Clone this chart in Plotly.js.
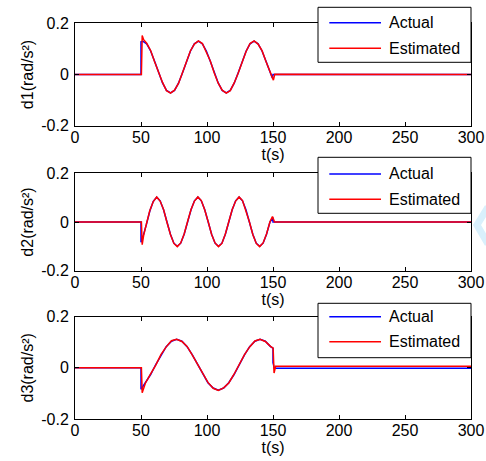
<!DOCTYPE html>
<html>
<head>
<meta charset="utf-8">
<script src="https://cdn.plot.ly/plotly-3.0.1.min.js"></script>
<style>
  html, body { margin: 0; padding: 0; background: #fff; }
  #chart { width: 486px; height: 461px; }
</style>
</head>
<body>
<div id="chart"></div>
<script>
// Disturbance torques d1..d3: actual vs estimated (rad/s^2) over time t (s)

// ---- d1 ----
const d1ActualT = [0, 50, 50, 51.3, 54.3, 57.3, 60.3, 63.3, 66.3, 69.3, 72.4, 75.4, 78.4, 81.4, 84.4, 87.4, 90.4, 93.5,
  96.5, 99.5, 102.5, 105.5, 108.5, 111.5, 114.6, 117.6, 120.6, 123.6, 126.6, 129.6, 132.6, 135.7, 138.7, 141.7, 144.7,
  147.7, 149.5, 150, 300];
const d1ActualV = [0, 0, 0.128, 0.130, 0.120, 0.092, 0.052, 0.007, -0.033, -0.062, -0.072, -0.062, -0.034, 0.006, 0.051,
  0.091, 0.120, 0.130, 0.120, 0.092, 0.052, 0.007, -0.033, -0.062, -0.072, -0.062, -0.034, 0.006, 0.051, 0.091, 0.120,
  0.130, 0.120, 0.092, 0.052, 0.007, -0.014, 0, 0];
const d1EstT = [0, 50.3, 50.9, 52.0, 54.3, 57.3, 60.3, 63.3, 66.3, 69.3, 72.4, 75.4, 78.4, 81.4, 84.4, 87.4, 90.4, 93.5,
  96.5, 99.5, 102.5, 105.5, 108.5, 111.5, 114.6, 117.6, 120.6, 123.6, 126.6, 129.6, 132.6, 135.7, 138.7, 141.7, 144.7,
  147.7, 149.5, 150.3, 151.3, 300];
const d1EstV = [0, 0, 0.152, 0.136, 0.122, 0.094, 0.050, 0.008, -0.031, -0.063, -0.073, -0.061, -0.035, 0.007, 0.050,
  0.092, 0.119, 0.131, 0.121, 0.090, 0.053, 0.006, -0.034, -0.061, -0.073, -0.063, -0.033, 0.005, 0.052, 0.090, 0.121,
  0.131, 0.119, 0.093, 0.051, 0.008, -0.015, -0.022, 0.001, 0];

// ---- d2 ----
const d2ActualT = [0, 50, 50, 51.5, 54.1, 56.7, 59.3, 61.9, 64.5, 67.1, 69.7, 72.3, 74.9, 77.5, 80.1, 82.7, 85.3, 87.9,
  90.5, 93.1, 95.7, 98.3, 100.9, 103.5, 106.1, 108.7, 111.3, 113.9, 116.5, 119.1, 121.7, 124.3, 126.9, 129.5, 132.1,
  134.7, 137.3, 139.9, 142.5, 145.1, 147.7, 150, 150, 300];
const d2ActualV = [0, 0, -0.083, -0.060, -0.010, 0.045, 0.085, 0.102, 0.087, 0.050, 0, -0.050, -0.087, -0.100, -0.087,
  -0.050, 0, 0.050, 0.087, 0.102, 0.087, 0.050, 0, -0.050, -0.087, -0.100, -0.087, -0.050, 0, 0.050, 0.087, 0.102,
  0.087, 0.050, 0, -0.050, -0.087, -0.100, -0.087, -0.050, 0, 0.018, 0, 0];
const d2EstT = [0, 50.3, 50.9, 52.0, 54.1, 56.7, 59.3, 61.9, 64.5, 67.1, 69.7, 72.3, 74.9, 77.5, 80.1, 82.7, 85.3, 87.9,
  90.5, 93.1, 95.7, 98.3, 100.9, 103.5, 106.1, 108.7, 111.3, 113.9, 116.5, 119.1, 121.7, 124.3, 126.9, 129.5, 132.1,
  134.7, 137.3, 139.9, 142.5, 145.1, 147.7, 149.6, 150.4, 151.2, 300];
const d2EstV = [0, 0, -0.093, -0.055, -0.008, 0.047, 0.084, 0.103, 0.086, 0.051, -0.002, -0.051, -0.088, -0.101,
  -0.086, -0.049, 0.002, 0.051, 0.086, 0.103, 0.088, 0.049, 0.001, -0.051, -0.086, -0.101, -0.088, -0.049, 0.001,
  0.051, 0.086, 0.103, 0.088, 0.049, 0.001, -0.051, -0.088, -0.101, -0.086, -0.049, 0.001, 0.022, 0.012, 0, 0];

// ---- d3 ----
const d3ActualT = [0, 50, 50, 53.3, 57.3, 61.2, 65.2, 69.1, 73.1, 77.0, 81.0, 84.9, 88.9, 92.8, 96.8, 100.7, 104.7,
  108.6, 112.6, 116.5, 120.5, 124.4, 128.4, 132.3, 136.3, 140.2, 144.2, 148.1, 150, 150, 151, 300];
const d3ActualV = [0, 0, -0.084, -0.058, -0.026, 0.013, 0.051, 0.083, 0.104, 0.112, 0.104, 0.083, 0.051, 0.013,
  -0.026, -0.058, -0.079, -0.087, -0.079, -0.058, -0.026, 0.013, 0.051, 0.083, 0.104, 0.112, 0.104, 0.083, 0.077,
  0.020, -0.002, -0.002];
const d3EstT = [0, 50.3, 50.9, 53.3, 57.3, 61.2, 65.2, 69.1, 73.1, 77.0, 81.0, 84.9, 88.9, 92.8, 96.8, 100.7, 104.7,
  108.6, 112.6, 116.5, 120.5, 124.4, 128.4, 132.3, 136.3, 140.2, 144.2, 148.1, 150.1, 150.8, 152, 300];
const d3EstV = [0, 0, -0.097, -0.060, -0.024, 0.011, 0.053, 0.082, 0.106, 0.112, 0.103, 0.084, 0.050, 0.014, -0.027,
  -0.057, -0.080, -0.088, -0.078, -0.059, -0.025, 0.012, 0.052, 0.082, 0.105, 0.112, 0.103, 0.084, 0.077, -0.020,
  0.006, 0.006];

const panelNames = ['d1', 'd2', 'd3'];
const seriesNames = ['Actual', 'Estimated'];
const xTickVals = [0, 50, 100, 150, 200, 250, 300];
const yTickVals = [-0.2, 0, 0.2];
const yTickText = ['-0.2', '0', '0.2'];

const actualT = [d1ActualT, d2ActualT, d3ActualT];
const actualV = [d1ActualV, d2ActualV, d3ActualV];
const estT = [d1EstT, d2EstT, d3EstT];
const estV = [d1EstV, d2EstV, d3EstV];

// ---- geometry (pixels on a 486 x 461 canvas) ----
const W = 486, H = 461;
const px = x => x / W;
const py = y => 1 - y / H;
const plotLeft = 75, plotRight = 471;
const panelTop = [23.3, 173.3, 316.7];
const panelBottom = [125.7, 270.7, 419];
const legendBox = [[318, 7.3, 471, 62.3], [318, 157.3, 471, 213.3], [318, 303.3, 471, 357.7]];
const legendRows = [[22.7, 48.3], [174, 199.3], [316.7, 341.7]];

const FONT = 'Liberation Sans, Arial, Helvetica, sans-serif';
const BLUE = '#0000ff', RED = '#ff0000';

const traces = [];
const layout = {
  width: W, height: H,
  margin: {l: 0, r: 0, t: 0, b: 0},
  paper_bgcolor: '#fff', plot_bgcolor: '#fff',
  showlegend: false,
  font: {family: FONT, size: 16, color: '#000'},
  shapes: [], annotations: []
};

for (let i = 0; i < 3; i++) {
  const sfx = i === 0 ? '' : String(i + 1);
  traces.push({x: actualT[i], y: actualV[i], type: 'scatter', mode: 'lines', name: seriesNames[0],
    xaxis: 'x' + sfx, yaxis: 'y' + sfx, line: {color: BLUE, width: 1.5}});
  traces.push({x: estT[i], y: estV[i], type: 'scatter', mode: 'lines', name: seriesNames[1],
    xaxis: 'x' + sfx, yaxis: 'y' + sfx, line: {color: RED, width: 1.5}});

  const axCommon = {
    showline: true, linecolor: '#000', linewidth: 1, mirror: 'ticks',
    ticks: 'inside', ticklen: 4, tickcolor: '#000', tickwidth: 1,
    showgrid: false, zeroline: false, automargin: false, fixedrange: true,
    tickfont: {family: FONT, size: 16, color: '#000'}
  };
  layout['xaxis' + sfx] = Object.assign({}, axCommon, {
    domain: [px(plotLeft), px(plotRight)], range: [0, 300],
    tickmode: 'array', tickvals: xTickVals, ticklabelstandoff: -3,
    anchor: 'y' + sfx,
    title: {text: 't(s)', font: {family: FONT, size: 16, color: '#000'}, standoff: 0}
  });
  layout['yaxis' + sfx] = Object.assign({}, axCommon, {
    domain: [py(panelBottom[i]), py(panelTop[i])], range: [-0.2, 0.2],
    tickmode: 'array', tickvals: yTickVals, ticktext: yTickText, ticklabelstandoff: 2,
    anchor: 'x' + sfx,
    title: {text: panelNames[i] + '(rad/s\u00B2)', font: {family: FONT, size: 16, color: '#000'}, standoff: 3}
  });

  // legend box with line samples
  const [bx0, by0, bx1, by1] = legendBox[i];
  layout.shapes.push({type: 'rect', xref: 'paper', yref: 'paper', layer: 'above',
    x0: px(bx0), x1: px(bx1), y0: py(by1), y1: py(by0),
    fillcolor: '#fff', line: {color: '#000', width: 1}});
  const colors = [BLUE, RED];
  for (let k = 0; k < 2; k++) {
    const ry = legendRows[i][k];
    layout.shapes.push({type: 'line', xref: 'paper', yref: 'paper', layer: 'above',
      x0: px(329.3), x1: px(381), y0: py(ry), y1: py(ry), line: {color: colors[k], width: 1.5}});
    layout.annotations.push({xref: 'paper', yref: 'paper', x: px(386.5), y: py(ry),
      xanchor: 'left', yanchor: 'middle', showarrow: false, text: seriesNames[k],
      font: {family: FONT, size: 16, color: '#000'}});
  }
}

// faint chevron mark at the right edge
layout.shapes.push({type: 'path', xref: 'paper', yref: 'paper', layer: 'below',
  path: `M ${px(488)},${py(207)} L ${px(477)},${py(225)} L ${px(488)},${py(244)}`,
  line: {color: '#d9f0fc', width: 7}});

Plotly.newPlot('chart', traces, layout, {staticPlot: true, displayModeBar: false});
</script>
</body>
</html>
